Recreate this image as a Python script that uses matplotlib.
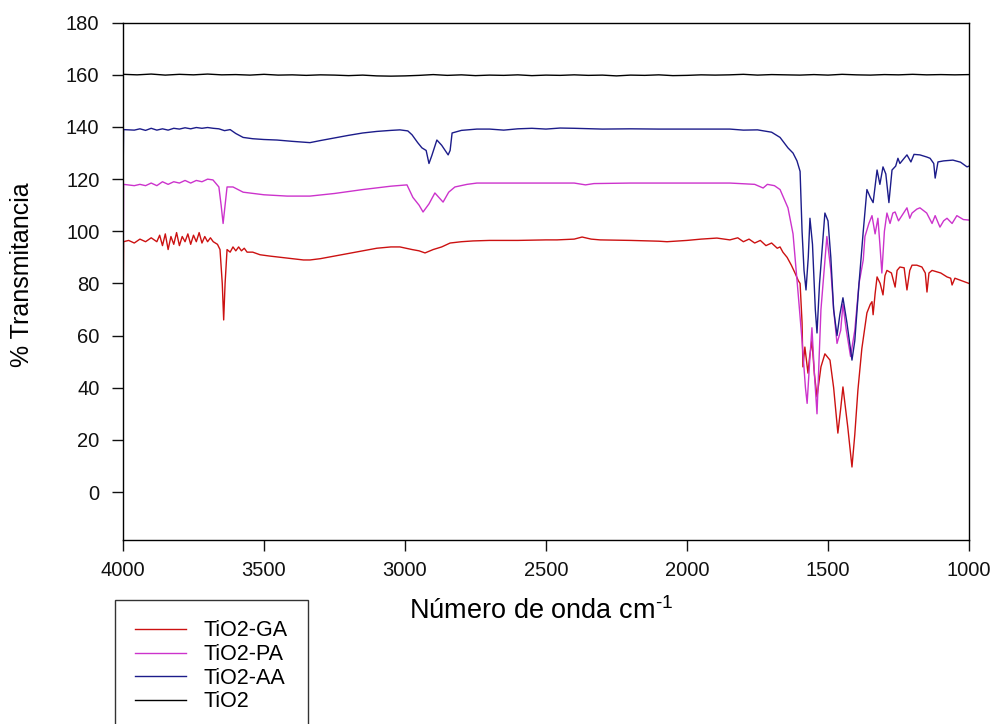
import matplotlib
matplotlib.use("Agg")
import matplotlib.pyplot as plt

plt.rcParams['font.family'] = ['Liberation Sans', 'DejaVu Sans']
plt.rcParams['mathtext.fontset'] = 'custom'
plt.rcParams['mathtext.rm'] = 'Liberation Sans'
plt.rcParams['mathtext.it'] = 'Liberation Sans'

# ---------------- data ----------------
ga_x = [4000, 3998, 3980, 3960, 3940, 3920, 3900, 3880, 3870, 3860, 3850, 3840, 3830, 3820,
        3810, 3800, 3790, 3780, 3770, 3760, 3750, 3740, 3730, 3720, 3710, 3700, 3690, 3680,
        3665, 3656, 3648, 3643, 3638, 3631, 3620, 3610, 3600, 3590, 3580, 3570, 3560, 3540,
        3514, 3480, 3440, 3400, 3360, 3337, 3300, 3250, 3200, 3150, 3100, 3050, 3018, 2975,
        2950, 2929, 2900, 2870, 2840, 2800, 2759, 2700, 2600, 2500, 2461, 2400, 2372, 2340,
        2308, 2200, 2100, 2071, 2000, 1950, 1894, 1848, 1820, 1800, 1780, 1760, 1740, 1720,
        1700, 1680, 1670, 1660, 1645, 1630, 1617, 1605, 1599, 1592, 1589, 1582, 1576, 1571,
        1565, 1557, 1548, 1539, 1525, 1511, 1493, 1480, 1465, 1455, 1447, 1430, 1415, 1405,
        1394, 1380, 1362, 1350, 1344, 1340, 1333, 1326, 1315, 1305, 1298, 1291, 1275, 1262,
        1255, 1245, 1230, 1220, 1210, 1202, 1185, 1167, 1155, 1149, 1142, 1131, 1100, 1078,
        1065, 1060, 1050, 1025, 1000]
ga_y = [57, 96, 96.5, 95.5, 97, 96, 97.5, 96, 98.5, 94.5, 99, 93, 98, 95,
        99.5, 94.5, 98, 96, 99, 95, 98.5, 96, 99.5, 95.5, 98, 96, 97.5, 96,
        95, 93, 80, 66, 80, 93, 92, 94, 92.5, 94, 92.5, 93.5, 92, 92,
        91, 90.5, 90, 89.5, 89, 89, 89.5, 90.5, 91.5, 92.5, 93.5, 94, 94, 93,
        92.5, 91.7, 93, 94, 95.5, 96, 96.3, 96.5, 96.5, 96.7, 96.7, 97, 97.8, 97,
        96.7, 96.5, 96.2, 96, 96.5, 97, 97.4, 96.7, 97.5, 96, 97, 95.5, 96.5, 94.5,
        95.5, 93.5, 94, 92, 90, 87, 84, 81, 80, 65, 48, 55.6, 50, 45.6,
        52, 58, 45, 36.5, 48, 53, 50.6, 40, 22.6, 32, 40.3, 25, 9.6, 22,
        39, 55, 68.7, 72, 73, 68, 76, 82.5, 80, 75.6, 83, 85, 84, 78.6,
        85, 86.3, 86, 77.5, 85, 87, 87, 86.3, 84, 76.7, 84, 85, 84, 82.5,
        82, 79.4, 82, 81, 80]

pa_x = [4000, 3998, 3960, 3940, 3920, 3900, 3880, 3860, 3840, 3820, 3800, 3780, 3760, 3740,
        3720, 3700, 3681, 3660, 3652, 3645, 3638, 3631, 3610, 3574, 3500, 3418, 3337, 3250,
        3150, 3050, 2993, 2972, 2950, 2936, 2915, 2894, 2880, 2865, 2845, 2823, 2780, 2745,
        2600, 2400, 2360, 2330, 2200, 2000, 1848, 1760, 1730, 1715, 1690, 1670, 1642, 1624,
        1605, 1592, 1580, 1574, 1565, 1557, 1548, 1539, 1525, 1504, 1490, 1480, 1468, 1455,
        1447, 1435, 1420, 1405, 1390, 1375, 1369, 1355, 1344, 1333, 1323, 1316, 1309, 1300,
        1291, 1280, 1270, 1262, 1250, 1238, 1220, 1210, 1202, 1185, 1174, 1150, 1131, 1120,
        1103, 1090, 1078, 1060, 1043, 1020, 1000]
pa_y = [60, 118, 117.5, 118, 117.5, 118.5, 117.5, 119, 118, 119, 118.5, 119.5, 118.5, 119.5,
        119, 120, 119.7, 117, 110, 103, 110, 117, 117, 115, 114, 113.5, 113.5, 114.5,
        116, 117.3, 117.8, 113, 110, 107.4, 110.5, 114.7, 113, 111.2, 115, 117, 118, 118.5,
        118.5, 118.5, 117.8, 118.3, 118.5, 118.5, 118.5, 118, 116.6, 118, 117.5, 116, 109, 99,
        75, 58, 40, 34, 50, 63, 45, 30, 70, 98, 85, 70, 57, 62,
        72, 62, 52, 62, 80, 89, 98, 103, 106, 99, 105, 95, 84, 100,
        107, 103, 107, 107.4, 104, 106, 109, 105, 107, 108.5, 109, 107, 103, 106,
        101.6, 104, 105, 103, 106, 104.5, 104.3]

aa_x = [4000, 3998, 3960, 3940, 3920, 3900, 3880, 3860, 3840, 3820, 3800, 3780, 3760, 3740,
        3720, 3700, 3680, 3660, 3640, 3620, 3600, 3574, 3540, 3500, 3454, 3400, 3337, 3300,
        3250, 3200, 3150, 3100, 3050, 3018, 2990, 2975, 2955, 2940, 2925, 2915, 2905, 2887,
        2870, 2847, 2840, 2833, 2800, 2745, 2700, 2650, 2600, 2550, 2500, 2450, 2400, 2300,
        2200, 2100, 2000, 1900, 1848, 1800, 1750, 1700, 1670, 1642, 1624, 1610, 1599, 1592,
        1585, 1578, 1570, 1564, 1555, 1545, 1539, 1530, 1511, 1500, 1490, 1480, 1468, 1458,
        1447, 1433, 1415, 1405, 1390, 1375, 1362, 1350, 1340, 1326, 1316, 1305, 1295, 1284,
        1273, 1260, 1252, 1245, 1230, 1220, 1206, 1195, 1174, 1150, 1138, 1125, 1120, 1110,
        1090, 1057, 1030, 1007, 1000]
aa_y = [117, 139, 138.8, 139.3, 138.7, 139.5, 138.8, 139.3, 138.8, 139.5, 139.2, 139.7, 139.3, 139.8,
        139.5, 139.8, 139.5, 139.3, 138.6, 139, 137.5, 136, 135.5, 135.2, 135, 134.5, 134, 134.8,
        135.8, 136.8, 137.7, 138.3, 138.7, 138.9, 138.5, 137, 134, 132, 131, 126, 129, 135,
        133, 129.3, 131, 137.7, 138.7, 139.2, 139.2, 138.8, 139.3, 139.5, 139.2, 139.6, 139.5, 139.2,
        139.3, 139.2, 139.2, 139.2, 139.2, 138.8, 138.9, 138, 136, 132, 130, 127, 123, 100,
        85, 77.5, 90, 105, 95, 70, 61, 80, 107, 104, 90, 70, 60, 68,
        74.5, 65, 50.6, 58, 80, 100, 116, 113, 111, 123.5, 118, 124.7, 122, 111,
        123.5, 125, 128, 126, 128, 129.3, 126.6, 129.5, 129.3, 128.5, 128, 126, 120.4, 126.6,
        127, 127.3, 126.5, 124.7, 125]

ti_x = [4000, 3950, 3900, 3850, 3800, 3750, 3700, 3650, 3600, 3550, 3500, 3450, 3400, 3350,
        3300, 3250, 3200, 3150, 3100, 3050, 3000, 2950, 2900, 2850, 2800, 2750, 2700, 2650,
        2600, 2550, 2500, 2450, 2400, 2350, 2300, 2250, 2200, 2150, 2100, 2050, 2000, 1950,
        1900, 1850, 1800, 1750, 1700, 1650, 1600, 1550, 1500, 1450, 1400, 1350, 1300, 1250,
        1200, 1150, 1100, 1050, 1000]
ti_y = [160.2, 160.0, 160.3, 159.9, 160.2, 160.0, 160.3, 160.0, 160.1, 159.9, 160.2, 159.9, 160.0, 159.8,
        160.0, 159.9, 159.7, 159.9, 159.6, 159.5, 159.6, 159.8, 160.1, 159.8, 160.0, 159.7, 159.9, 159.8,
        160.0, 159.7, 159.9, 159.8, 160.0, 159.8, 159.9, 159.6, 159.9, 159.8, 160.0, 159.7, 159.8, 160.0,
        159.9, 160.0, 160.2, 159.9, 160.1, 160.0, 159.9, 160.1, 159.9, 160.2, 160.0, 159.9, 160.1, 160.0,
        160.2, 160.0, 160.1, 160.0, 160.1]

labels = ['TiO2-GA', 'TiO2-PA', 'TiO2-AA', 'TiO2']
colors = ['#cc1111', '#cc33cc', '#1c1c8a', '#000000']
x_ticks = [4000, 3500, 3000, 2500, 2000, 1500, 1000]
y_ticks = [0, 20, 40, 60, 80, 100, 120, 140, 160, 180]

# ---------------- figure ----------------
fig = plt.figure(figsize=(9.98, 7.24), dpi=100)
ax = fig.add_axes([123 / 998, 1 - 540 / 724, 846 / 998, (540 - 22.7) / 724])

series = [(ga_x, ga_y), (pa_x, pa_y), (aa_x, aa_y), (ti_x, ti_y)]
for (xs, ys), lab, col in zip(series, labels, colors):
    ax.plot(xs, ys, color=col, lw=1.0, label=lab)

ax.set_xlim(4000, 1000)
ax.set_ylim(-18.4, 180)
ax.set_xticks(x_ticks)
ax.set_yticks(y_ticks)
ax.tick_params(direction='out', length=8, width=1, labelsize=14.5, colors='#111111')
ax.tick_params(axis='x', pad=7)
ax.tick_params(axis='y', pad=9)
for sp in ax.spines.values():
    sp.set_linewidth(1.0)

ax.set_xlabel(r'Número de onda cm$^{\text{-1}}$', fontsize=19.5)
ax.xaxis.set_label_coords(0.494, -0.1527)
ax.xaxis.label.set_va('baseline')
ax.set_ylabel('% Transmitancia', fontsize=18)
ax.yaxis.set_label_coords(-0.105, 0.512)

leg = fig.legend(loc='upper left', bbox_to_anchor=(115 / 998, 1 - 600 / 724),
                 fontsize=15.5, frameon=True, fancybox=False, handlelength=2.37,
                 handletextpad=0.8, labelspacing=0.12, borderpad=0.95,
                 borderaxespad=0)
leg.get_frame().set_edgecolor('black')
leg.get_frame().set_linewidth(1.0)

fig.savefig('out.png', dpi=100)
